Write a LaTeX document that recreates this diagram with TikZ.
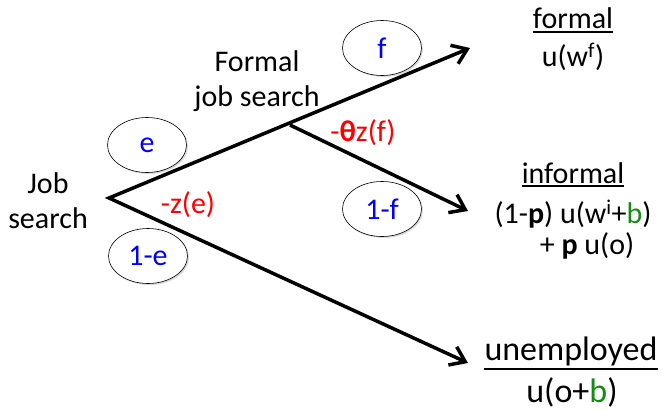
\documentclass[tikz,border=0pt]{standalone}
\usepackage{fontspec}
\setmainfont{Carlito}
\usetikzlibrary{arrows.meta,shapes.geometric,shadows}
\definecolor{myblue}{RGB}{0,0,255}
\definecolor{myred}{RGB}{255,0,0}
\definecolor{mygreen}{RGB}{20,140,20}
\begin{document}
\begin{tikzpicture}[x=1pt,y=-1pt,
  txt/.style={font=\fontsize{30}{35}\selectfont, inner sep=0pt, align=center},
  bigtxt/.style={font=\fontsize{34}{38}\selectfont, inner sep=0pt, align=center},
  prob/.style={ellipse, draw, line width=0.6pt, fill=white, minimum width=79pt, minimum height=55pt,
    text=myblue, font=\fontsize{30}{35}\selectfont, inner sep=0pt,
    drop shadow={shadow xshift=1.5pt,shadow yshift=-1.5pt,opacity=0.3}},
  barb/.tip={Straight Barb[length=14pt,width=20pt]},
  arr/.style={line width=3.5pt, line join=miter},
  uline/.style={line width=2.2pt}]
\useasboundingbox (0,0) rectangle (662,410);
% junction points
\coordinate (R) at (109,198);
\coordinate (T1) at (470,48);
\coordinate (B) at (290,125);
\coordinate (T2) at (468,211);
\coordinate (T3) at (468,363);
% connectors
\draw[arr, {barb}-{barb}] (T1) -- (R) -- (T3);
\draw[arr, -{barb}] (B) -- (T2);
% probability ellipses
\node[prob] (pf) at (382,48) {f};
\node[prob] (pe) at (147,145) {e};
\node[prob] (p1e) at (148,256) {1-e};
\node[prob] (p1f) at (382,209) {1-f};
% labels
\node[txt] (job) at (48,201) {Job\\search};
\node[txt] (fjs) at (257,81) {Formal\\job search};
\node[txt, text=myred] (ze) at (188,205) {-z(e)};
\node[txt, text=myred] (tz) at (363,133) {-\textbf{θ}z(f)};
% outcomes
\node[txt] (formal) at (573,18) {formal};
\draw[uline] ([yshift=-3.5pt]formal.south west) -- ([yshift=-3.5pt]formal.south east);
\node[txt] (uwf) at (573,57) {u(w\textsuperscript{f})};
\node[txt] (informal) at (573,173) {informal};
\draw[uline] ([yshift=-2.5pt]informal.south west) -- ([yshift=-2.5pt]informal.south east);
\node[txt] (inf1) at (573,214) {(1-\textbf{p}) u(w\textsuperscript{i}+\textcolor{mygreen}{b})};
\node[txt] (inf2) at (587,246) {+ \textbf{p} u(o)};
\node[bigtxt] (unemp) at (571,351) {unemployed};
\draw[uline] ([yshift=-3pt]unemp.south west) -- ([yshift=-3pt]unemp.south east);
\node[bigtxt] (uob) at (572,392) {u(o+\textcolor{mygreen}{b})};
\end{tikzpicture}
\end{document}
